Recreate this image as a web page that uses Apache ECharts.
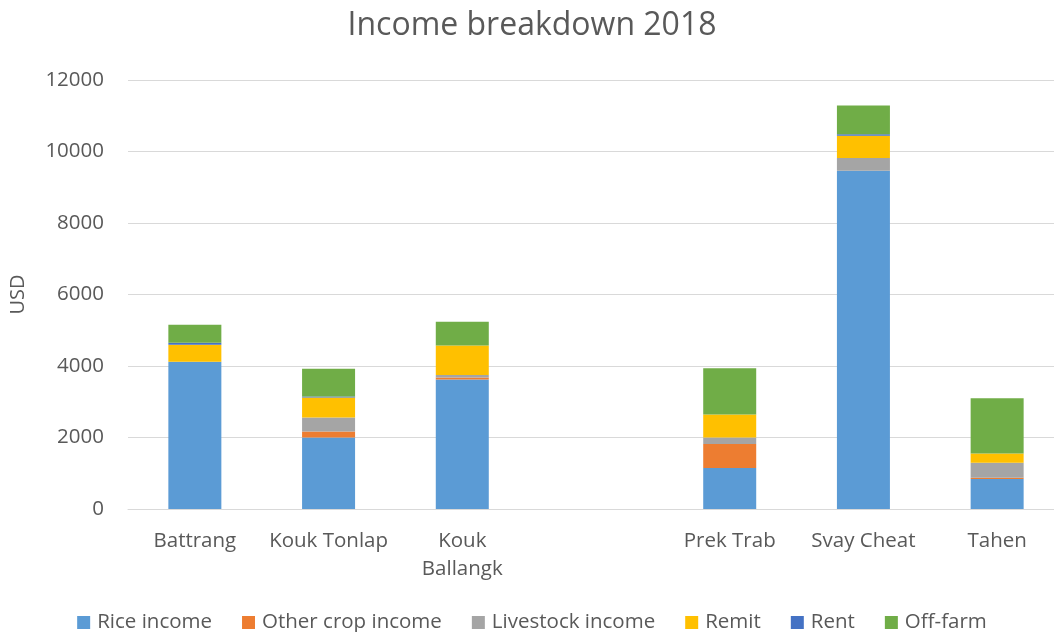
<!DOCTYPE html>
<html>
<head>
<meta charset="utf-8">
<script src="https://cdn.jsdelivr.net/npm/echarts@6/dist/echarts.min.js"></script>
<style>
  html, body { margin: 0; padding: 0; background: #fff; overflow: hidden; }
  /* plot area runs slightly past the right edge of the window */
  #chart { width: 1064px; height: 632px; }
</style>
</head>
<body>
<div id="chart"></div>
<script>
// Villages (an empty slot separates the two groups)
const categories = ['Battrang', 'Kouk Tonlap', 'Kouk\nBallangk', '', 'Prek Trab', 'Svay Cheat', 'Tahen'];

// Income components, USD
const riceIncome      = [4120, 2000, 3625, null, 1145, 9460, 840];
const otherCropIncome = [0,    170,  55,   null, 670,  0,    35];
const livestockIncome = [0,    390,  65,   null, 185,  355,  420];
const remit           = [475,  560,  830,  null, 645,  625,  260];
const rent            = [55,   25,   0,    null, 0,    40,   0];
const offFarm         = [505,  775,  665,  null, 1295, 810,  1540];

const yTicks = [0, 2000, 4000, 6000, 8000, 10000, 12000];

const FONT = '"Open Sans", "Noto Sans", sans-serif';
const TEXT = '#595959';

const seriesDefs = [
  { name: 'Rice income',       data: riceIncome,      color: '#5B9BD5' },
  { name: 'Other crop income', data: otherCropIncome, color: '#ED7D31' },
  { name: 'Livestock income',  data: livestockIncome, color: '#A5A5A5' },
  { name: 'Remit',             data: remit,           color: '#FFC000' },
  { name: 'Rent',              data: rent,            color: '#4472C4' },
  { name: 'Off-farm',          data: offFarm,         color: '#70AD47' }
];

const chart = echarts.init(document.getElementById('chart'), null, { renderer: 'canvas' });

chart.setOption({
  animation: false,
  backgroundColor: '#fff',
  title: {
    text: 'Income breakdown 2018',
    left: 'center',
    top: 5,
    textStyle: { fontFamily: FONT, fontSize: 32, fontWeight: 'normal', color: TEXT }
  },
  legend: {
    bottom: -6,
    left: 'center',
    itemWidth: 13,
    itemHeight: 13,
    itemGap: 30,
    icon: 'rect',
    textStyle: { fontFamily: FONT, fontSize: 20.5, color: TEXT, padding: [0, 0, 0, 2] },
    data: seriesDefs.map(s => s.name)
  },
  grid: { left: 126, right: 0, top: 80, bottom: 123, containLabel: false },
  xAxis: {
    type: 'category',
    data: categories,
    axisLine: { lineStyle: { color: '#D9D9D9', width: 1 } },
    axisTick: { show: false },
    axisLabel: {
      fontFamily: FONT, fontSize: 20.5, color: TEXT, margin: 18, lineHeight: 28, interval: 0
    }
  },
  yAxis: {
    type: 'value',
    min: yTicks[0],
    max: yTicks[yTicks.length - 1],
    interval: yTicks[1] - yTicks[0],
    name: 'USD',
    nameLocation: 'middle',
    nameGap: 100,
    nameRotate: 90,
    nameTextStyle: { fontFamily: FONT, fontSize: 20, color: TEXT },
    axisLine: { show: false },
    axisTick: { show: false },
    splitLine: { lineStyle: { color: '#D9D9D9', width: 1 } },
    axisLabel: {
      fontFamily: FONT, fontSize: 20.5, color: TEXT, margin: 24,
      formatter: v => String(v)
    }
  },
  series: seriesDefs.map(s => ({
    name: s.name,
    type: 'bar',
    stack: 'income',
    barWidth: 53,
    data: s.data,
    itemStyle: { color: s.color }
  }))
});
</script>
</body>
</html>
